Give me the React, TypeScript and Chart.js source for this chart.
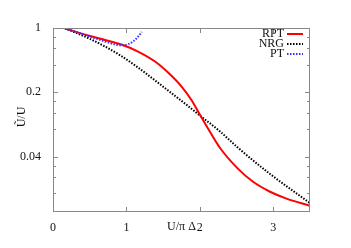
import React, { useEffect, useRef } from "react";
import { Chart, registerables } from "chart.js";

Chart.register(...registerables);

const rptX = [0.163, 0.477, 0.708, 0.94, 1.158, 1.39, 1.567, 1.757, 1.894, 2.003, 2.139, 2.275, 2.507, 2.725, 2.956, 3.188, 3.5];
const rptY = [0.988, 0.829, 0.741, 0.657, 0.555, 0.432, 0.328, 0.228, 0.161, 0.113, 0.0741, 0.0496, 0.0302, 0.0213, 0.0166, 0.0139, 0.0117];

const nrgX = [0.163, 0.477, 0.708, 0.94, 1.158, 1.39, 1.621, 1.839, 1.975, 2.275, 2.507, 2.956, 3.5];
const nrgY = [0.9925, 0.779, 0.629, 0.49, 0.372, 0.269, 0.194, 0.142, 0.116, 0.075, 0.0509, 0.0259, 0.0125];

const ptX = [0.163, 0.477, 0.708, 0.845, 0.94, 1.022, 1.09, 1.144, 1.208];
const ptY = [0.995, 0.823, 0.713, 0.662, 0.649, 0.667, 0.713, 0.779, 0.905];

const xTicks = [0, 1, 2, 3];
const yMajorTicks = [1, 0.2, 0.04];
const yTickLabels = ["1", "0.2", "0.04"];
const yMinorTicks = [0.8, 0.6, 0.4, 0.16, 0.12, 0.08, 0.032, 0.024, 0.016];

const seriesLabels = ["RPT", "NRG", "PT"];

const FONT = '"Liberation Serif", "DejaVu Serif", serif';

function pts(xs: number[], ys: number[]) {
  return xs.map((x, i) => ({ x, y: ys[i] }));
}

const decorPlugin = {
  id: "decor",
  afterDraw(chart: any) {
    const ctx = chart.ctx;
    const a = chart.chartArea;
    const xs = chart.scales.x;
    const ys = chart.scales.y;
    ctx.save();
    ctx.strokeStyle = "#888";
    ctx.lineWidth = 1;
    ctx.strokeRect(Math.round(a.left) + 0.5, Math.round(a.top) + 0.5, Math.round(a.right - a.left) - 1, Math.round(a.bottom - a.top) - 1);
    ctx.beginPath();
    xTicks.forEach((v) => {
      const px = Math.round(xs.getPixelForValue(v)) + 0.5;
      ctx.moveTo(px, a.bottom);
      ctx.lineTo(px, a.bottom - 5);
      ctx.moveTo(px, a.top);
      ctx.lineTo(px, a.top + 5);
    });
    yMajorTicks.forEach((v) => {
      const py = Math.round(ys.getPixelForValue(v)) + 0.5;
      ctx.moveTo(a.left, py);
      ctx.lineTo(a.left + 5, py);
      ctx.moveTo(a.right, py);
      ctx.lineTo(a.right - 5, py);
    });
    yMinorTicks.forEach((v) => {
      const py = Math.round(ys.getPixelForValue(v)) + 0.5;
      ctx.moveTo(a.left, py);
      ctx.lineTo(a.left + 3, py);
      ctx.moveTo(a.right, py);
      ctx.lineTo(a.right - 3, py);
    });
    ctx.stroke();

    ctx.fillStyle = "#111";
    ctx.font = "12px " + FONT;
    ctx.textAlign = "center";
    ctx.textBaseline = "middle";
    ctx.fillText("U/\u03c0 \u0394", (a.left + a.right) / 2, a.bottom + 15);
    ctx.save();
    ctx.translate(22, (a.top + a.bottom) / 2 - 3);
    ctx.rotate(-Math.PI / 2);
    ctx.fillText("\u0168/U", 0, 0);
    ctx.restore();

    const ds = chart.data.datasets;
    ds.forEach((d: any, i: number) => {
      const y = a.top + 6 + i * 10;
      ctx.textAlign = "right";
      ctx.fillStyle = "#111";
      ctx.fillText(seriesLabels[i], a.right - 26, y);
      ctx.beginPath();
      ctx.strokeStyle = d.borderColor;
      ctx.lineWidth = d.borderWidth;
      ctx.setLineDash(d.borderDash || []);
      ctx.moveTo(a.right - 23, y);
      ctx.lineTo(a.right - 7, y);
      ctx.stroke();
      ctx.setLineDash([]);
    });
    ctx.restore();
  },
};

export default function App() {
  const ref = useRef<HTMLCanvasElement | null>(null);
  useEffect(() => {
    if (!ref.current) return;
    const chart = new Chart(ref.current, {
      type: "scatter",
      data: {
        datasets: [
          {
            label: seriesLabels[0],
            data: pts(rptX, rptY),
            showLine: true,
            borderColor: "#ff0000",
            borderWidth: 2,
            pointRadius: 0,
            cubicInterpolationMode: "monotone",
            order: 1,
          },
          {
            label: seriesLabels[1],
            data: pts(nrgX, nrgY),
            showLine: true,
            borderColor: "#000000",
            borderWidth: 2,
            borderDash: [1.5, 1.5],
            pointRadius: 0,
            cubicInterpolationMode: "monotone",
            order: 2,
          },
          {
            label: seriesLabels[2],
            data: pts(ptX, ptY),
            showLine: true,
            borderColor: "#3333ff",
            borderWidth: 2,
            borderDash: [1.5, 1.5],
            pointRadius: 0,
            cubicInterpolationMode: "monotone",
            order: 0,
          },
        ],
      } as any,
      options: {
        responsive: false,
        animation: false,
        layout: { padding: { top: 28, right: 41, left: 0, bottom: 0 } },
        plugins: { legend: { display: false }, tooltip: { enabled: false } },
        scales: {
          x: {
            type: "linear",
            min: 0,
            max: 3.5,
            afterFit: (s: any) => {
              s.height = 36;
            },
            afterBuildTicks: (s: any) => {
              s.ticks = xTicks.map((v) => ({ value: v }));
            },
            grid: { display: false },
            border: { display: false },
            ticks: {
              color: "#111",
              padding: 1,
              font: { family: FONT, size: 12 },
              callback: (v: any) => String(v),
            },
          },
          y: {
            type: "logarithmic",
            min: 0.01,
            max: 1,
            afterFit: (s: any) => {
              s.width = 53;
            },
            afterBuildTicks: (s: any) => {
              s.ticks = yMajorTicks.map((v) => ({ value: v }));
            },
            grid: { display: false },
            border: { display: false },
            ticks: {
              color: "#111",
              padding: 4,
              font: { family: FONT, size: 12 },
              callback: (v: any) => {
                const i = yMajorTicks.indexOf(Number(v));
                return i >= 0 ? yTickLabels[i] : "";
              },
            },
          },
        },
      } as any,
      plugins: [decorPlugin],
    });
    return () => chart.destroy();
  }, []);
  return (
    <div style={{ position: "fixed", left: 0, top: 0, width: 351, height: 248, background: "#fff" }}>
      <canvas ref={ref} width={351} height={248} style={{ display: "block" }} />
    </div>
  );
}
